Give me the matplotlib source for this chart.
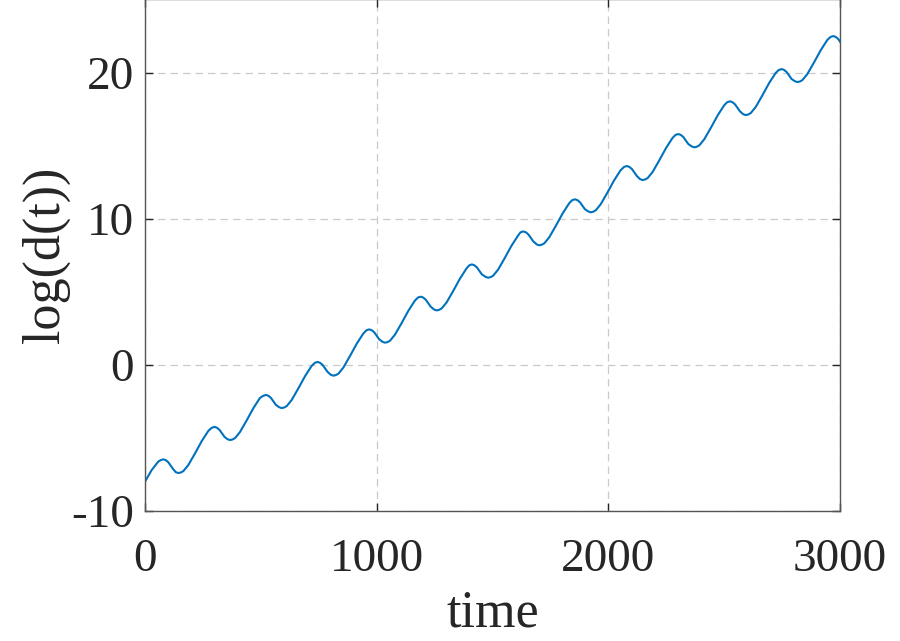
import matplotlib
matplotlib.use("Agg")
import matplotlib.pyplot as plt

# Values
time_vals = [
    0, 29, 57, 67, 79, 90, 101, 122, 133, 144,
    155, 166, 187, 216, 245, 273, 288, 300, 311, 322, 343, 356, 367,
    378, 389, 410, 439, 468, 496, 510, 522, 533, 544, 565, 579, 590,
    601, 612, 633, 662, 691, 719, 733, 745, 756, 767, 788, 802, 813,
    824, 835, 856, 885, 914, 942, 956, 968, 979, 990, 1011, 1025, 1036,
    1047, 1058, 1079, 1108, 1137, 1165, 1178, 1190, 1201, 1212, 1233, 1248, 1259,
    1270, 1281, 1302, 1331, 1360, 1388, 1400, 1411, 1422, 1433, 1454, 1470, 1481,
    1492, 1503, 1524, 1553, 1582, 1610, 1621, 1633, 1644, 1655, 1676, 1691, 1702,
    1713, 1724, 1745, 1774, 1803, 1831, 1844, 1856, 1867, 1878, 1899, 1913, 1924,
    1935, 1946, 1967, 1996, 2025, 2053, 2068, 2080, 2091, 2102, 2123, 2137, 2148,
    2159, 2170, 2191, 2220, 2249, 2277, 2290, 2302, 2313, 2324, 2345, 2360, 2371,
    2382, 2393, 2414, 2443, 2472, 2500, 2513, 2525, 2536, 2547, 2568, 2582, 2593,
    2604, 2615, 2636, 2665, 2694, 2722, 2736, 2748, 2759, 2770, 2791, 2805, 2816,
    2827, 2838, 2859, 2888, 2917, 2945, 2959, 2971, 2982, 2993, 3000,
]
log_d = [
    -7.99, -7.19, -6.62, -6.52, -6.46, -6.52, -6.67, -7.14, -7.34, -7.40,
    -7.36, -7.26, -6.85, -6.05, -5.21, -4.52, -4.30, -4.24, -4.30, -4.45, -4.92, -5.08, -5.14,
    -5.10, -5.00, -4.59, -3.79, -2.95, -2.26, -2.11, -2.05, -2.11, -2.26, -2.73, -2.89, -2.95,
    -2.91, -2.81, -2.40, -1.60, -0.76, -0.07, 0.15, 0.21, 0.15, 0.00, -0.47, -0.67, -0.73,
    -0.69, -0.59, -0.18, 0.62, 1.46, 2.15, 2.38, 2.44, 2.38, 2.23, 1.76, 1.59, 1.53,
    1.57, 1.67, 2.08, 2.88, 3.72, 4.41, 4.62, 4.68, 4.62, 4.47, 4.00, 3.80, 3.74,
    3.78, 3.88, 4.29, 5.09, 5.93, 6.62, 6.83, 6.89, 6.83, 6.68, 6.21, 6.04, 5.98,
    6.02, 6.12, 6.53, 7.33, 8.17, 8.86, 9.09, 9.15, 9.09, 8.94, 8.47, 8.26, 8.20,
    8.24, 8.34, 8.75, 9.55, 10.39, 11.08, 11.29, 11.35, 11.29, 11.14, 10.67, 10.52, 10.46,
    10.50, 10.60, 11.01, 11.81, 12.65, 13.34, 13.57, 13.63, 13.57, 13.42, 12.95, 12.73, 12.67,
    12.71, 12.81, 13.22, 14.02, 14.86, 15.55, 15.76, 15.82, 15.76, 15.61, 15.14, 14.97, 14.91,
    14.95, 15.05, 15.46, 16.26, 17.10, 17.79, 18.00, 18.06, 18.00, 17.85, 17.38, 17.18, 17.12,
    17.16, 17.26, 17.67, 18.47, 19.31, 20.00, 20.21, 20.27, 20.21, 20.06, 19.59, 19.44, 19.38,
    19.42, 19.52, 19.93, 20.73, 21.57, 22.26, 22.47, 22.53, 22.47, 22.32, 22.15,
]
x_ticks = [0, 1000, 2000, 3000]
y_ticks = [-10, 0, 10, 20]
y_tick_labels = ["-10", "0", "10", "20"]
x_label = "time"
y_label = "log(d(t))"

plt.rcParams['font.family'] = ['Liberation Serif', 'DejaVu Serif']

fig = plt.figure(figsize=(9, 6.41), dpi=100)
ax = fig.add_axes([145 / 900, 130 / 641, 695 / 900, 512 / 641])

ax.plot(time_vals, log_d, color='#0072BD', lw=1.5)

ax.set_xlim(0, 3000)
ax.set_ylim(-10, 25.07)
ax.set_xticks(x_ticks)
ax.set_xticklabels([str(v) for v in x_ticks])
ax.set_yticks(y_ticks)
ax.set_yticklabels(y_tick_labels)

ax.grid(True, color='#cacaca', linestyle=(0, (6, 4)), linewidth=0.9)
ax.set_axisbelow(True)

for s in ax.spines.values():
    s.set_color('#555555')
    s.set_linewidth(1.0)

ax.tick_params(direction='in', length=6, width=1.0, color='#262626',
               labelsize=34, top=True, right=True, labelcolor='#262626')
ax.tick_params(axis='x', pad=20)
ax.tick_params(axis='y', pad=8)

ax.set_xlabel(x_label, fontsize=37.5, color='#262626', labelpad=6)
ax.set_ylabel(y_label, fontsize=37.5, color='#262626', labelpad=1)

fig.savefig('out.png', dpi=100)
